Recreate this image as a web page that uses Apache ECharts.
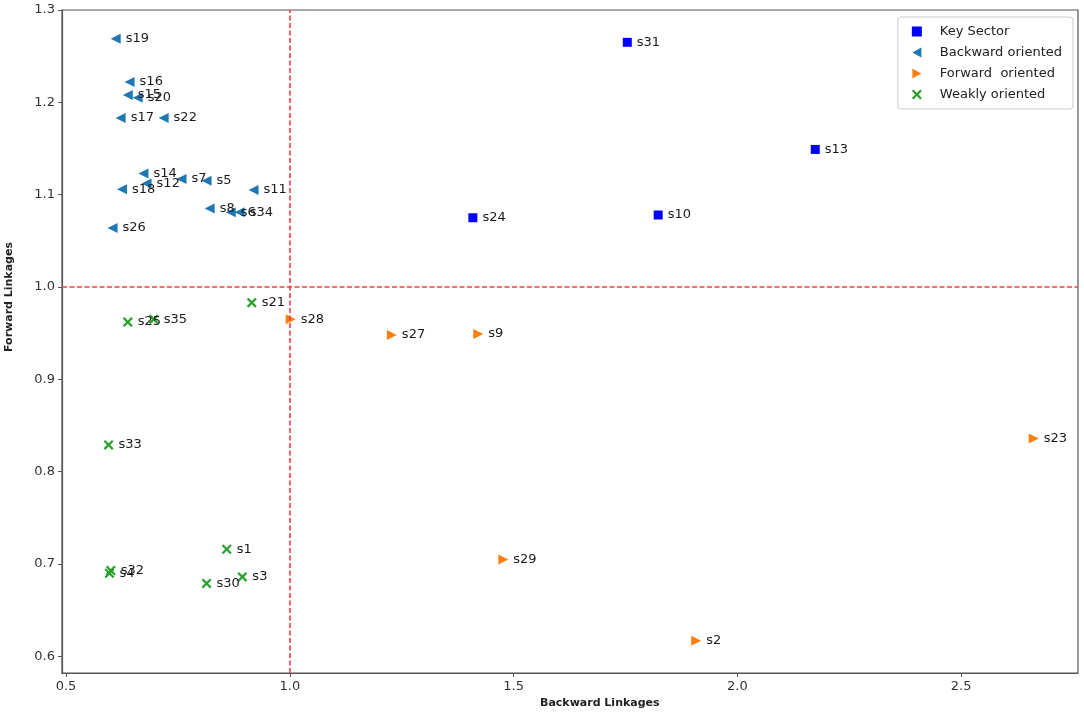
<!DOCTYPE html>
<html>
<head>
<meta charset="utf-8">
<script src="https://cdn.jsdelivr.net/npm/echarts@6/dist/echarts.min.js"></script>
<style>
  html, body { margin: 0; padding: 0; background: #fff; }
  #chart { width: 1084px; height: 718px; }
</style>
</head>
<body>
<div id="chart"></div>
<script>
// sector groups
const keyNames = ["s31", "s13", "s24", "s10"];
const keyX = [1.754, 2.174, 1.409, 1.823];
const keyY = [1.265, 1.149, 1.075, 1.078];

const backNames = ["s19", "s16", "s15", "s20", "s17", "s22", "s14", "s12", "s18", "s7", "s5", "s11", "s8", "s6", "s34", "s26"];
const backX = [0.611, 0.642, 0.638, 0.660, 0.622, 0.718, 0.673, 0.680, 0.625, 0.758, 0.814, 0.919, 0.821, 0.868, 0.888, 0.604];
const backY = [1.269, 1.222, 1.208, 1.205, 1.183, 1.183, 1.123, 1.112, 1.106, 1.117, 1.115, 1.105, 1.085, 1.081, 1.081, 1.064];

const fwdNames = ["s28", "s27", "s9", "s23", "s29", "s2"];
const fwdX = [1.002, 1.228, 1.421, 2.662, 1.477, 1.908];
const fwdY = [0.965, 0.948, 0.949, 0.836, 0.705, 0.617];

const weakNames = ["s21", "s25", "s35", "s33", "s1", "s3", "s30", "s32", "s4"];
const weakX = [0.915, 0.638, 0.696, 0.595, 0.859, 0.894, 0.814, 0.600, 0.597];
const weakY = [0.983, 0.962, 0.965, 0.829, 0.716, 0.686, 0.679, 0.693, 0.690];

const xTicks = [0.5, 1.0, 1.5, 2.0, 2.5];
const yTicks = [0.6, 0.7, 0.8, 0.9, 1.0, 1.1, 1.2, 1.3];

const zip = (names, xs, ys) => names.map((n, i) => [xs[i], ys[i], n]);

// marker shapes like matplotlib's "<", ">" and "x"
const leftTri = "path://M0,5L9,0L9,10Z";
const rightTri = "path://M9,5L0,0L0,10Z";
const crossPath = "path://M0,1.6L1.6,0L5,3.4L8.4,0L10,1.6L6.6,5L10,8.4L8.4,10L5,6.6L1.6,10L0,8.4L3.4,5Z";

const labelStyle = {
  show: true,
  position: "right",
  distance: 5,
  formatter: (p) => p.data[2],
  color: "#1a1a1a",
  fontSize: 13,
  fontFamily: "DejaVu Sans",
};

var myChart = echarts.init(document.getElementById("chart"));
myChart.setOption({
  animation: false,
  backgroundColor: "#fff",
  grid: {
    left: 62,
    right: 6,
    top: 10,
    bottom: 45,
    show: true,
    borderColor: "#555",
    borderWidth: 1.2,
  },
  legend: {
    orient: "vertical",
    right: 11,
    top: 17,
    padding: [8, 11, 8, 14],
    itemGap: 8,
    itemWidth: 10,
    itemHeight: 10,
    borderColor: "#ccc",
    borderWidth: 1,
    borderRadius: 3,
    textStyle: { fontSize: 13, color: "#222", fontFamily: "DejaVu Sans", padding: [0, 0, 0, 13] },
    data: ["Key Sector", "Backward oriented", "Forward  oriented", "Weakly oriented"],
  },
  xAxis: {
    type: "value",
    min: 0.491,
    max: 2.761,
    splitLine: { show: false },
    axisLine: { show: true, onZero: false, lineStyle: { color: "#555", width: 1.2 } },
    axisTick: { show: true, customValues: xTicks, length: 4, lineStyle: { color: "#555" } },
    axisLabel: {
      customValues: xTicks,
      formatter: (v) => v.toFixed(1),
      color: "#333",
      fontSize: 13,
      margin: 7,
      fontFamily: "DejaVu Sans",
    },
  },
  yAxis: {
    type: "value",
    min: 0.582,
    max: 1.3,
    splitLine: { show: false },
    axisLine: { show: true, onZero: false, lineStyle: { color: "#555", width: 1.2 } },
    axisTick: { show: true, customValues: yTicks, length: 4, lineStyle: { color: "#555" } },
    axisLabel: {
      customValues: yTicks,
      formatter: (v) => v.toFixed(1),
      color: "#333",
      fontSize: 13,
      margin: 7,
      fontFamily: "DejaVu Sans",
    },
  },
  graphic: [
    {
      type: "text",
      left: 540,
      top: 698,
      style: { text: "Backward Linkages", fontSize: 11, fontWeight: "bold", fill: "#222", fontFamily: "DejaVu Sans" },
    },
    {
      type: "text",
      x: 4,
      y: 352,
      rotation: Math.PI / 2,
      style: { text: "Forward Linkages", fontSize: 11, fontWeight: "bold", fill: "#222", fontFamily: "DejaVu Sans" },
    },
  ],
  series: [
    {
      name: "Key Sector",
      type: "scatter",
      symbol: "rect",
      symbolSize: 9,
      itemStyle: { color: "#0000ff", opacity: 1 },
      label: labelStyle,
      data: zip(keyNames, keyX, keyY),
      markLine: {
        silent: true,
        symbol: "none",
        label: { show: false },
        lineStyle: { color: "#ff3c3c", type: [5, 2.5], width: 1.6, opacity: 1 },
        data: [{ xAxis: 1.0 }, { yAxis: 1.0 }],
      },
    },
    {
      name: "Backward oriented",
      type: "scatter",
      symbol: leftTri,
      symbolSize: 10,
      itemStyle: { color: "#1f77b4", opacity: 1 },
      label: labelStyle,
      data: zip(backNames, backX, backY),
    },
    {
      name: "Forward  oriented",
      type: "scatter",
      symbol: rightTri,
      symbolSize: 10,
      itemStyle: { color: "#ff7f0e", opacity: 1 },
      label: labelStyle,
      data: zip(fwdNames, fwdX, fwdY),
    },
    {
      name: "Weakly oriented",
      type: "scatter",
      symbol: crossPath,
      symbolSize: 10,
      itemStyle: { color: "#2ca02c", opacity: 1 },
      label: labelStyle,
      data: zip(weakNames, weakX, weakY),
    },
  ],
});
</script>
</body>
</html>
